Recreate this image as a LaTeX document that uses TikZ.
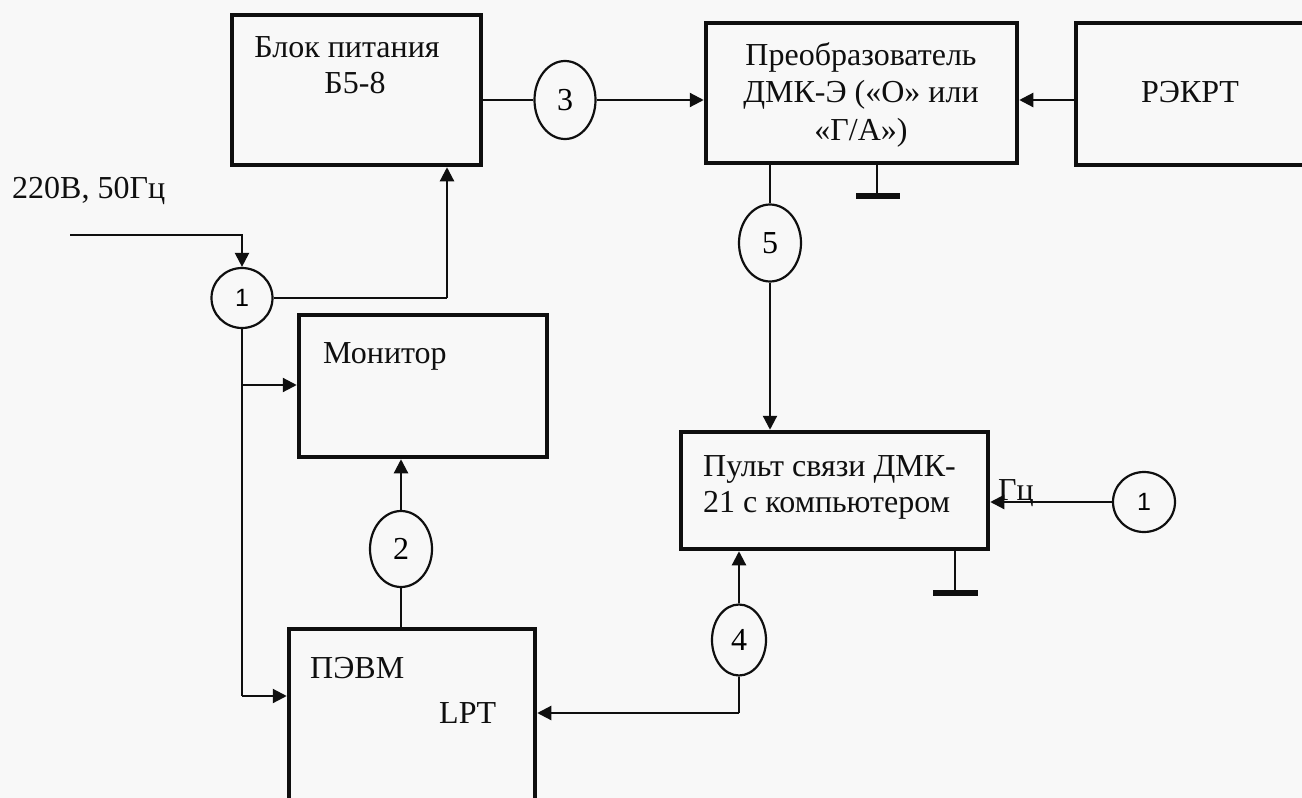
\documentclass[tikz,border=0pt]{standalone}
\usepackage{fontspec}
\setmainfont{Liberation Serif}
\newfontfamily\numsans{Liberation Sans}
\usetikzlibrary{arrows.meta,shapes.geometric}
\definecolor{bgc}{RGB}{248,248,248}
\definecolor{ink}{RGB}{15,15,15}
\begin{document}
\begin{tikzpicture}[x=1pt,y=-1pt,
  box/.style={draw=ink,line width=4.5pt,rectangle,inner sep=0pt},
  circ/.style={draw=ink,line width=2.2pt,ellipse,inner sep=0pt,font=\fontsize{32}{37}\selectfont},
  circs/.style={circ,font=\numsans\fontsize{25}{30}\selectfont},
  conn/.style={draw=ink,line width=2.2pt},
  arr/.style={conn,-{Triangle[length=14pt,width=14pt]}},
  lbl/.style={inner sep=0pt,text=ink,font=\fontsize{32}{37}\selectfont},
  gnd/.style={draw=ink,line width=5.5pt}]
\fill[bgc] (0,0) rectangle (1302,798);
\useasboundingbox (0,0) rectangle (1302,798);

% boxes
\node[box,minimum width=249pt,minimum height=150pt] (bp) at (356.5,90) {};
\node[box,minimum width=311pt,minimum height=140pt] (pr) at (861.5,93) {};
\node[box,minimum width=240pt,minimum height=142pt] (rk) at (1196,94) {};
\node[box,minimum width=248pt,minimum height=142pt] (mon) at (423,386) {};
\node[box,minimum width=307pt,minimum height=117pt] (pult) at (834.5,490.5) {};
\node[box,minimum width=246pt,minimum height=190pt] (pevm) at (412,724) {};

% texts
\node[lbl,anchor=base] (t1) at (347,57) {Блок питания};
\node[lbl,anchor=base] (t2) at (355,93) {Б5-8};
\node[lbl,anchor=base] (t3) at (861,65) {Преобразователь};
\node[lbl,anchor=base] (t4) at (861,102) {ДМК-Э («О» или};
\node[lbl,anchor=base] (t5) at (861,140) {«Г/А»)};
\node[lbl,anchor=base] (t6) at (1190,102) {РЭКРТ};
\node[lbl,anchor=base west] (t7) at (323,363) {Монитор};
\node[lbl,anchor=base west] (t8) at (703,476) {Пульт связи ДМК-};
\node[lbl,anchor=base west] (t9) at (703,512) {21 с компьютером};
\node[lbl,anchor=base west] (t10) at (310,678) {ПЭВМ};
\node[lbl,anchor=base west] (t11) at (439,723) {LPT};
\node[lbl,anchor=base west] (t12) at (12,198) {220В, 50Гц};
\node[lbl,anchor=base west] (t13) at (998,500) {Гц};

% circles
\node[circs,minimum width=61pt,minimum height=60pt] (c1) at (242,298) {1};
\node[circ,minimum width=61pt,minimum height=78pt] (c3) at (565,100) {3};
\node[circ,minimum width=62pt,minimum height=77pt] (c5) at (770,243) {5};
\node[circ,minimum width=62pt,minimum height=76pt] (c2) at (401,549) {2};
\node[circ,minimum width=54pt,minimum height=71pt] (c4) at (739,640) {4};
\node[circs,minimum width=62pt,minimum height=60pt] (c1b) at (1144,502) {1};

% coordinates
\coordinate (in0) at (70,235);
\coordinate (jb) at (447,298);
\coordinate (jm) at (242,385);
\coordinate (jp) at (242,696);
\coordinate (j4) at (739,713);

% connectors
\draw[arr] (in0) -| (c1.north);
\draw[conn] (c1.east) -- (jb);
\draw[arr] (jb) -- (jb |- bp.south);
\draw[conn] (c1.south) -- (jp);
\draw[arr] (jm) -- (jm -| mon.west);
\draw[arr] (jp) -- (jp -| pevm.west);
\draw[conn] (c3.west -| bp.east) -- (c3.west);
\draw[arr] (c3.east) -- (c3.east -| pr.west);
\draw[arr] (c3.east -| rk.west) -- (c3.east -| pr.east);
\draw[conn] (c5.north |- pr.south) -- (c5.north);
\draw[arr] (c5.south) -- (c5.south |- pult.north);
\draw[conn] (c2.south |- pevm.north) -- (c2.south);
\draw[arr] (c2.north) -- (c2.north |- mon.south);
\draw[arr] (c4.north) -- (c4.north |- pult.south);
\draw[conn] (c4.south) -- (j4);
\draw[arr] (j4) -- (j4 -| pevm.east);
\draw[arr] (c1b.west) -- (c1b.west -| pult.east);

% grounds
\coordinate (g1) at (877,196);
\coordinate (g2) at (955,593);
\draw[conn] (g1 |- pr.south) -- (g1);
\draw[gnd] ([xshift=-21pt]g1) -- ([xshift=23pt]g1);
\draw[conn] (g2 |- pult.south) -- (g2);
\draw[gnd] ([xshift=-22pt]g2) -- ([xshift=23pt]g2);
\end{tikzpicture}
\end{document}
